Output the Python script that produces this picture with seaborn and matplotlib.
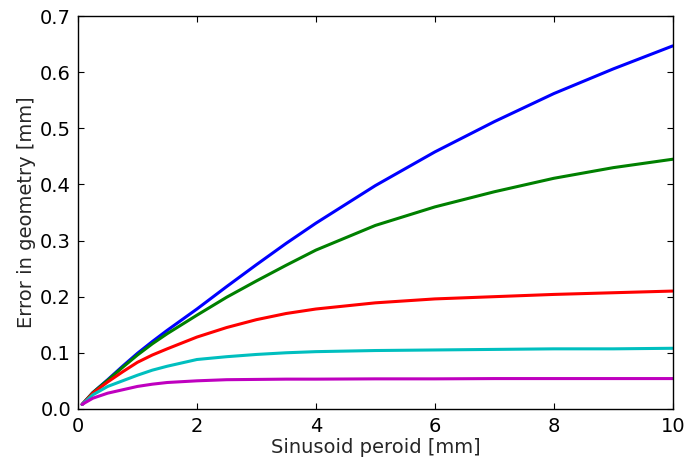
import numpy as np
import pandas as pd
import matplotlib
matplotlib.use('agg')
import matplotlib.pyplot as plt
import seaborn as sns

# values
period = [0.07, 0.25, 0.5, 0.75, 1.0, 1.25, 1.5, 2.0, 2.5, 3.0, 3.5,
          4.0, 5.0, 6.0, 7.0, 8.0, 9.0, 10.0]
err_blue = [0.008, 0.029, 0.052, 0.076, 0.099, 0.120, 0.140, 0.178, 0.218, 0.257, 0.295,
            0.331, 0.398, 0.458, 0.512, 0.562, 0.606, 0.647]
err_green = [0.008, 0.029, 0.051, 0.074, 0.096, 0.116, 0.134, 0.167, 0.199, 0.228, 0.256,
             0.283, 0.327, 0.360, 0.387, 0.411, 0.430, 0.445]
err_red = [0.008, 0.028, 0.048, 0.066, 0.083, 0.096, 0.107, 0.128, 0.145, 0.159, 0.170,
           0.178, 0.189, 0.196, 0.200, 0.204, 0.207, 0.210]
err_cyan = [0.008, 0.025, 0.040, 0.050, 0.060, 0.069, 0.076, 0.088, 0.093, 0.097, 0.100,
            0.102, 0.104, 0.105, 0.106, 0.107, 0.107, 0.108]
err_magenta = [0.008, 0.019, 0.028, 0.034, 0.040, 0.044, 0.047, 0.050, 0.052, 0.0525, 0.053,
               0.053, 0.0535, 0.0535, 0.054, 0.054, 0.054, 0.054]

series = {'b': err_blue, 'g': err_green, 'r': err_red, 'c': err_cyan, 'm': err_magenta}
df = pd.concat([pd.DataFrame({'period': period, 'error': v, 'curve': k})
                for k, v in series.items()], ignore_index=True)

sns.set_style('ticks')
plt.rcParams.update({
    'font.family': ['DejaVu Sans'],
    'font.size': 14,
    'xtick.direction': 'in',
    'ytick.direction': 'in',
    'xtick.top': True,
    'ytick.right': True,
    'xtick.major.size': 4,
    'ytick.major.size': 4,
    'xtick.major.pad': 6,
    'ytick.major.pad': 5,
    'axes.linewidth': 1.0,
    'axes.edgecolor': 'black',
})

fig = plt.figure(figsize=(6.9, 4.62), dpi=100)
ax = fig.add_axes([0.113, 0.115, 0.862, 0.85])

palette = {'b': (0, 0, 1), 'g': (0, 0.5, 0), 'r': (1, 0, 0),
           'c': (0, 0.75, 0.75), 'm': (0.75, 0, 0.75)}
sns.lineplot(data=df, x='period', y='error', hue='curve', palette=palette,
             linewidth=2.2, legend=False, ax=ax, sort=True)

ax.set_xlim(0, 10)
ax.set_ylim(0, 0.7)
ax.set_xticks(np.arange(0, 11, 2))
ax.set_yticks(np.arange(0, 0.71, 0.1))
ax.set_yticklabels(['%.1f' % v for v in np.arange(0, 0.71, 0.1)])
ax.tick_params(labelsize=14, colors='black')
ax.set_xlabel('Sinusoid peroid [mm]', fontsize=14, labelpad=1)
ax.set_ylabel('Error in geometry [mm]', fontsize=14, labelpad=3)

fig.savefig('out.png', dpi=100)
